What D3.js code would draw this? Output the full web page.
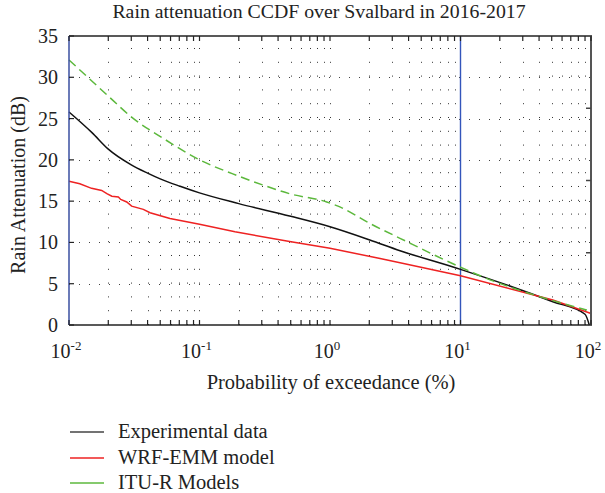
<!DOCTYPE html>
<html><head><meta charset="utf-8">
<script src="https://cdn.jsdelivr.net/npm/d3@7/dist/d3.min.js"></script>
<style>body{margin:0;background:#fff}svg{display:block}text{font-family:"Liberation Serif","Times New Roman",Times,serif;fill:#222}</style>
</head><body><svg id="c" width="605" height="493"></svg>
<script>
const title = "Rain attenuation CCDF over Svalbard in 2016-2017";
const xLabel = "Probability of exceedance (%)";
const yLabel = "Rain Attenuation (dB)";
const xTickExps = [-2, -1, 0, 1, 2];
const yTicks = [0, 5, 10, 15, 20, 25, 30, 35];
const markerP = 10;

const expP = [0.01, 0.015, 0.02, 0.03, 0.04, 0.05, 0.071, 0.1, 0.2, 0.49, 1, 2.02, 3.44, 10, 51, 90, 97];
const expV = [25.8, 23.3, 21.3, 19.4, 18.4, 17.7, 16.8, 16.0, 14.7, 13.2, 11.9, 10.3, 9.0, 6.74, 2.82, 1.3, 0];

const wrfP = [0.01, 0.0121, 0.0149, 0.0178, 0.0195, 0.0213, 0.0239, 0.0249, 0.0277, 0.0302, 0.0371, 0.0418, 0.0594, 0.0798, 0.1, 0.187, 0.49, 1, 2.42, 3.44, 10, 51, 100];
const wrfV = [17.4, 17.1, 16.55, 16.3, 15.9, 15.6, 15.5, 15.2, 14.9, 14.4, 14.0, 13.6, 12.9, 12.5, 12.2, 11.3, 10.1, 9.3, 8.05, 7.55, 5.97, 3.03, 1.4];

const ituP = [0.01, 0.0204, 0.03, 0.0528, 0.1, 0.18, 0.3, 0.49, 0.944, 1.19, 2.02, 3.44, 10, 15, 58, 93];
const ituV = [32.1, 27.6, 25.2, 22.6, 20.0, 18.3, 17.0, 15.9, 14.9, 14.3, 12.3, 10.5, 7.0, 5.8, 2.7, 1.8];

const seriesNames = ["Experimental data", "WRF-EMM model", "ITU-R Models"];
const seriesColors = ["#111111", "#ee2222", "#5cb83c"];

const svg = d3.select("#c");
const L = 69, R = 591, T = 36, B = 325;
const x = d3.scaleLog().domain([0.01, 100]).range([L, R]);
const y = d3.scaleLinear().domain([0, 35]).range([B, T]);

const logTicks = [];
for (let e = -2; e < 2; e++) for (let m = 1; m <= 9; m++) logTicks.push(m * Math.pow(10, e));
logTicks.push(100);

const g = svg.append("g");
g.selectAll(".vg").data(logTicks.filter(d => d > 0.01 && d < 100)).join("line")
  .attr("x1", d => Math.round(x(d)) + 0.5).attr("x2", d => Math.round(x(d)) + 0.5)
  .attr("y1", B).attr("y2", T)
  .attr("stroke", "#333").attr("stroke-width", 1).attr("stroke-dasharray", "1,12.8");
g.selectAll(".hg").data(yTicks.filter(d => d > 0 && d < 35)).join("line")
  .attr("x1", L).attr("x2", R)
  .attr("y1", d => Math.round(y(d)) + 0.5).attr("y2", d => Math.round(y(d)) + 0.5)
  .attr("stroke", "#444").attr("stroke-width", 1).attr("stroke-dasharray", "1,9");

g.append("line").attr("x1", x(markerP)).attr("x2", x(markerP)).attr("y1", T).attr("y2", B)
  .attr("stroke", "#3355bb").attr("stroke-width", 1.4);

const smooth = d3.line().x(d => x(d[0])).y(d => y(d[1])).curve(d3.curveMonotoneX);
const sharp = d3.line().x(d => x(d[0])).y(d => y(d[1]));
const series = [
  {p: expP, v: expV, dash: null, gen: smooth},
  {p: wrfP, v: wrfV, dash: null, gen: sharp},
  {p: ituP, v: ituV, dash: "9,5", gen: smooth}
];
series.forEach((s, i) => {
  g.append("path").datum(s.p.map((p, j) => [p, s.v[j]]))
    .attr("d", s.gen).attr("fill", "none").attr("stroke", seriesColors[i])
    .attr("stroke-width", 1.5).attr("stroke-dasharray", s.dash);
});

g.append("line").attr("x1", L).attr("x2", R).attr("y1", T).attr("y2", T).attr("stroke", "#222").attr("stroke-width", 1.5);
g.append("line").attr("x1", L).attr("x2", R + 1).attr("y1", B).attr("y2", B).attr("stroke", "#222").attr("stroke-width", 1.5);
g.append("line").attr("x1", L).attr("x2", L).attr("y1", T).attr("y2", B).attr("stroke", "#3a4fa0").attr("stroke-width", 1.5);
g.append("line").attr("x1", R).attr("x2", R).attr("y1", T - 1).attr("y2", B).attr("stroke", "#555").attr("stroke-width", 2);

g.selectAll(".bt").data(logTicks).join("line")
  .attr("x1", d => x(d)).attr("x2", d => x(d)).attr("y1", B).attr("y2", B - 5)
  .attr("stroke", "#222").attr("stroke-width", 1.2);
g.selectAll(".tt").data(logTicks).join("line")
  .attr("x1", d => x(d)).attr("x2", d => x(d)).attr("y1", T).attr("y2", T + 5)
  .attr("stroke", "#222").attr("stroke-width", 1.2);
g.selectAll(".lt").data(yTicks).join("line")
  .attr("x1", L).attr("x2", L + 5).attr("y1", d => y(d)).attr("y2", d => y(d))
  .attr("stroke", "#222").attr("stroke-width", 1.2);
g.selectAll(".rt").data([0.25, 0.5, 0.75]).join("line")
  .attr("x1", R).attr("x2", R - 5).attr("y1", d => B - d * (B - T)).attr("y2", d => B - d * (B - T))
  .attr("stroke", "#444").attr("stroke-width", 1.5);

g.selectAll(".yl").data(yTicks).join("text")
  .attr("x", 58).attr("y", d => y(d) + 7).attr("text-anchor", "end")
  .attr("font-size", 20).text(d => d);

const xl = g.selectAll(".xl").data(xTickExps).join("text")
  .attr("x", d => x(Math.pow(10, d)) - 3).attr("y", 358).attr("text-anchor", "middle")
  .attr("font-size", 20);
xl.append("tspan").text("10");
xl.append("tspan").attr("dy", -8).attr("font-size", 13).text(d => d);

svg.append("text").attr("x", 319).attr("y", 18).attr("text-anchor", "middle").attr("font-size", 19.8).text(title);
svg.append("text").attr("x", 331).attr("y", 389).attr("text-anchor", "middle").attr("font-size", 20.5).text(xLabel);
svg.append("text").attr("transform", "translate(25,185) rotate(-90)").attr("text-anchor", "middle").attr("font-size", 20).text(yLabel);

const legY = [432, 458, 483];
const lg = svg.append("g");
seriesNames.forEach((n, i) => {
  lg.append("line").attr("x1", 70).attr("x2", 104).attr("y1", legY[i]).attr("y2", legY[i])
    .attr("stroke", i === 0 ? "#444" : seriesColors[i]).attr("stroke-width", 1.3);
  lg.append("text").attr("x", 118).attr("y", legY[i] + 6).attr("font-size", 20.5).text(n);
});
</script></body></html>
